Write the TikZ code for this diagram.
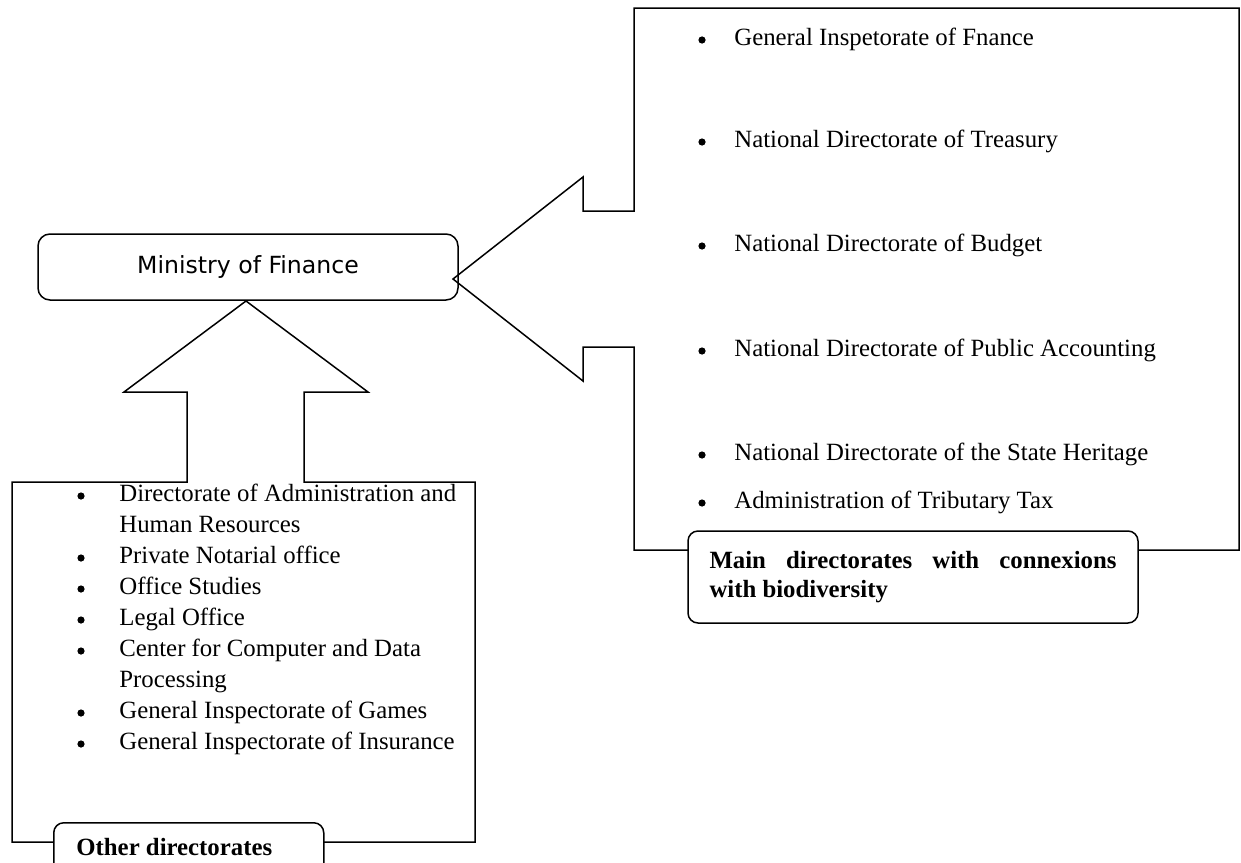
\documentclass[tikz,border=0pt]{standalone}
\usepackage{fontspec}
\setmainfont{Liberation Serif}
\newfontfamily\minfont{DejaVu Sans}
\begin{document}
\begin{tikzpicture}[x=0.5pt,y=-0.5pt,
  outline/.style={draw, line width=0.75pt, line join=miter},
  listtext/.style={anchor=west, inner sep=0pt, font=\fontsize{12.4}{15}\selectfont,
    text height=0.7em, text depth=0.2em},
  bulletdot/.style={fill, radius=1.8pt},
  labelbox/.style={draw, fill=white, line width=0.75pt, rounded corners=5pt,
    font=\fontsize{12.4}{14.5}\selectfont\bfseries},
  ministry/.style={draw, line width=0.75pt, rounded corners=6pt,
    minimum width=210pt, minimum height=33pt, font=\minfont\fontsize{11.8}{14}\selectfont}
]
\useasboundingbox (0,0) rectangle (1241,862);

% central ministry box
\node[ministry] (mof) at (248,267) {Ministry of Finance};

% right callout pointing to the ministry
\coordinate (rtip) at (453,279);
\draw[outline] (634,8) -- (1239,8) -- (1239,550) -- (634,550) -- (634,347)
  -- (583,347) -- (583,381) -- (rtip) -- (583,177) -- (583,211) -- (634,211) -- cycle;

% bottom-left callout pointing up to the ministry
\coordinate (btip) at (246,301);
\draw[outline] (12,482) -- (187,482) -- (187,392) -- (124,392) -- (btip)
  -- (368,392) -- (304,392) -- (304,482) -- (475,482) -- (475,842) -- (12,842) -- cycle;

% main directorates
\foreach \y/\t [count=\i] in {40/General Inspetorate of Fnance,
    142/National Directorate of Treasury,
    246/National Directorate of Budget,
    351/National Directorate of Public Accounting,
    455/National Directorate of the State Heritage,
    503/Administration of Tributary Tax} {
  \fill (702,\y) circle[bulletdot];
  \node[listtext] (main\i) at (734,\y) {\t};
}

% other directorates
\foreach \y/\t [count=\i] in {496/Directorate of Administration and,
    527/Human Resources,
    558/Private Notarial office,
    589/Office Studies,
    620/Legal Office,
    651/Center for Computer and Data,
    682/Processing,
    713/General Inspectorate of Games,
    744/General Inspectorate of Insurance} {
  \node[listtext] (other\i) at (119,\y) {\t};
}
\foreach \y in {496,558,589,620,651,713,744} {
  \fill (81,\y) circle[bulletdot];
}

% labels of the two groups
\node[labelbox, minimum width=225pt, minimum height=46pt,
  inner xsep=10.75pt, align=left] (mainlabel) at (913,577)
  {\makebox[203.5pt][s]{Main directorates with connexions}\\with biodiversity};
\node[labelbox, anchor=north west, minimum width=135pt, minimum height=30pt,
  inner xsep=11.5pt, align=left, text width=112pt] (otherlabel) at (53,822) {};
\node[anchor=west, inner sep=0pt, font=\fontsize{12.4}{14.5}\selectfont\bfseries]
  (othertext) at (76,847) {Other directorates};
\end{tikzpicture}
\end{document}
